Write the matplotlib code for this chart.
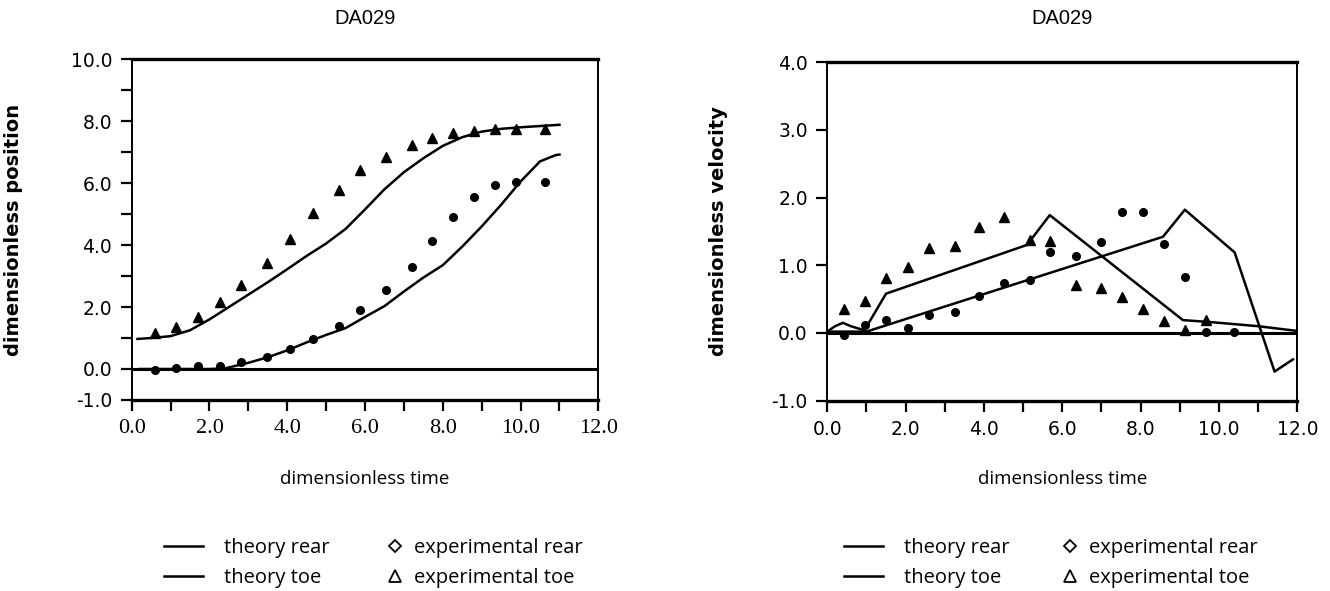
import matplotlib
matplotlib.use("Agg")
import matplotlib.pyplot as plt
from matplotlib.lines import Line2D
from matplotlib.ticker import MultipleLocator, FuncFormatter

plt.rcParams['axes.unicode_minus'] = False
plt.rcParams['font.family'] = ['DejaVu Sans']

title = "DA029"

# position plot: theory curves
pos_toe_t = [0.15, 0.5, 1.0, 1.5, 2.0, 2.5, 3.0, 3.5, 4.0, 4.5, 5.0, 5.5, 6.0,
             6.5, 7.0, 7.5, 8.0, 8.5, 9.0, 9.5, 10.0, 10.5, 11.0]
pos_toe = [0.97, 1.0, 1.06, 1.25, 1.6, 2.0, 2.4, 2.8, 3.22, 3.65, 4.05, 4.52, 5.15,
           5.8, 6.35, 6.8, 7.2, 7.48, 7.66, 7.75, 7.8, 7.84, 7.88]
pos_rear_t = [0.2, 1.0, 2.0, 2.4, 3.0, 3.5, 4.0, 4.5, 5.0, 5.5, 6.0, 6.5, 7.0,
              7.5, 8.0, 8.5, 9.0, 9.5, 10.0, 10.5, 10.9, 11.0]
pos_rear = [0.0, 0.0, 0.0, 0.02, 0.2, 0.38, 0.6, 0.86, 1.1, 1.32, 1.68, 2.03, 2.5,
            2.95, 3.35, 3.95, 4.6, 5.3, 6.05, 6.7, 6.9, 6.92]

# position plot: experimental points
pos_exp_t = [0.6, 1.14, 1.7, 2.26, 2.82, 3.49, 4.08, 4.66, 5.33, 5.87, 6.55,
             7.2, 7.73, 8.27, 8.79, 9.33, 9.87, 10.64]
pos_exp_toe = [1.15, 1.34, 1.69, 2.15, 2.71, 3.41, 4.18, 5.03, 5.78, 6.43, 6.83,
               7.22, 7.47, 7.61, 7.69, 7.76, 7.74, 7.74]
pos_exp_rear = [-0.03, 0.03, 0.09, 0.09, 0.22, 0.38, 0.65, 0.98, 1.38, 1.91,
                2.55, 3.3, 4.12, 4.92, 5.54, 5.93, 6.04, 6.04]

# velocity plot: theory curves
vel_toe_t = [0.0, 0.2, 0.4, 0.6, 0.95, 1.5, 5.1, 5.68, 9.08, 9.8, 11.0, 12.0]
vel_toe = [0.02, 0.1, 0.15, 0.1, 0.04, 0.58, 1.30, 1.74, 0.19, 0.16, 0.1, 0.03]
vel_rear_t = [0.0, 1.0, 8.57, 9.13, 10.4, 11.42, 11.89]
vel_rear = [0.02, 0.02, 1.42, 1.82, 1.19, -0.57, -0.39]

# velocity plot: experimental points
vel_exp_t = [0.43, 0.96, 1.5, 2.05, 2.6, 3.27, 3.87, 4.5, 5.17, 5.68, 6.36,
             7.0, 7.53, 8.06, 8.59, 9.13, 9.66, 10.39]
vel_exp_toe = [0.36, 0.47, 0.81, 0.98, 1.25, 1.28, 1.56, 1.71, 1.37, 1.36, 0.71,
               0.67, 0.525, 0.35, 0.17, 0.05, 0.19]
vel_exp_rear = [-0.03, 0.12, 0.19, 0.07, 0.26, 0.31, 0.55, 0.74, 0.78, 1.2, 1.14,
                1.34, 1.78, 1.78, 1.32, 0.82, 0.01, 0.01]

fig = plt.figure(figsize=(13.3, 5.91), dpi=100)
ax1 = fig.add_axes([0.099, 0.3232, 0.3509, 0.5768])
ax2 = fig.add_axes([0.622, 0.322, 0.3534, 0.573])


def style_axes(ax, ylim, ylabel, xfont, xsize, ylab_x):
    ax.set_xlim(0, 12)
    ax.set_ylim(*ylim)
    for side in ['top', 'bottom']:
        ax.spines[side].set_linewidth(2.4)
    for side in ['left', 'right']:
        ax.spines[side].set_linewidth(1.4)
    ax.xaxis.set_major_locator(MultipleLocator(1))
    ax.xaxis.set_major_formatter(
        FuncFormatter(lambda v, p: f"{v:.1f}" if round(v) % 2 == 0 else ""))
    ax.tick_params(direction='out', length=8, width=1.6, pad=6)
    for lab in ax.get_xticklabels():
        lab.set_fontfamily(xfont)
        lab.set_fontsize(xsize)
    for lab in ax.get_yticklabels():
        lab.set_fontsize(13.5)
    ax.set_xlabel("dimensionless time", fontsize=13.5, fontfamily='Open Sans')
    ax.xaxis.set_label_coords(0.5, -0.205)
    ax.set_ylabel(ylabel, fontsize=14, fontweight='bold')
    ax.yaxis.set_label_coords(ylab_x, 0.5)
    # title centred over the axes, near the top edge of the figure
    box = ax.get_position()
    fig.text((box.x0 + box.x1) / 2, 0.969, title, ha='center', va='center',
             fontsize=14.5, fontfamily='Liberation Sans')


# left: position
ax1.yaxis.set_major_locator(MultipleLocator(1))
ax1.yaxis.set_major_formatter(
    FuncFormatter(lambda v, p: f"{v:.1f}" if (round(v) % 2 == 0 or round(v) == -1) else ""))
ax1.axhline(0, color='black', lw=2.2, zorder=1)
ax1.plot(pos_toe_t, pos_toe, color='black', lw=1.8)
ax1.plot(pos_rear_t, pos_rear, color='black', lw=1.8)
ax1.plot(pos_exp_t, pos_exp_toe, '^', color='black', ms=6.5, ls='none')
ax1.plot(pos_exp_t, pos_exp_rear, 'o', color='black', ms=5.5, ls='none')
style_axes(ax1, (-1, 10), "dimensionless position", 'Liberation Serif', 16, -0.232)

# right: velocity
ax2.yaxis.set_major_locator(MultipleLocator(1))
ax2.yaxis.set_major_formatter(FuncFormatter(lambda v, p: f"{v:.1f}"))
ax2.axhline(0, color='black', lw=2.2, zorder=1)
ax2.plot(vel_toe_t, vel_toe, color='black', lw=1.8)
ax2.plot(vel_rear_t, vel_rear, color='black', lw=1.8)
ax2.plot(vel_exp_t[:len(vel_exp_toe)], vel_exp_toe, '^', color='black', ms=6.5, ls='none')
ax2.plot(vel_exp_t, vel_exp_rear, 'o', color='black', ms=5.5, ls='none')
style_axes(ax2, (-1, 4), "dimensionless velocity", 'DejaVu Sans', 13.5, -0.212)

# legends below each plot: one for the lines, one for the markers
line_handles = [Line2D([], [], color='black', lw=1.8),
                Line2D([], [], color='black', lw=1.8)]
line_labels = ["theory rear", "theory toe"]
mark_handles = [
    Line2D([], [], marker='D', color='black', mfc='white', ms=6.5, mew=1.3, ls='none'),
    Line2D([], [], marker='^', color='black', mfc='white', ms=9, mew=1.3, ls='none'),
]
mark_labels = ["experimental rear", "experimental toe"]
leg_font = {'family': 'Open Sans', 'size': 14.5}
leg_y = 1 - 563 / 591
for lx, mx in ((164 / 1330, 387 / 1330), (844 / 1330, 1062 / 1330)):
    fig.legend(line_handles, line_labels, loc='center left', bbox_to_anchor=(lx, leg_y),
               frameon=False, prop=leg_font, borderpad=0, borderaxespad=0,
               handlelength=1.95, handletextpad=1.05, labelspacing=0.5)
    fig.legend(mark_handles, mark_labels, loc='center left', bbox_to_anchor=(mx, leg_y),
               frameon=False, prop=leg_font, borderpad=0, borderaxespad=0,
               handlelength=0.8, handletextpad=0.55, labelspacing=0.5)

fig.savefig("out.png", dpi=100)
